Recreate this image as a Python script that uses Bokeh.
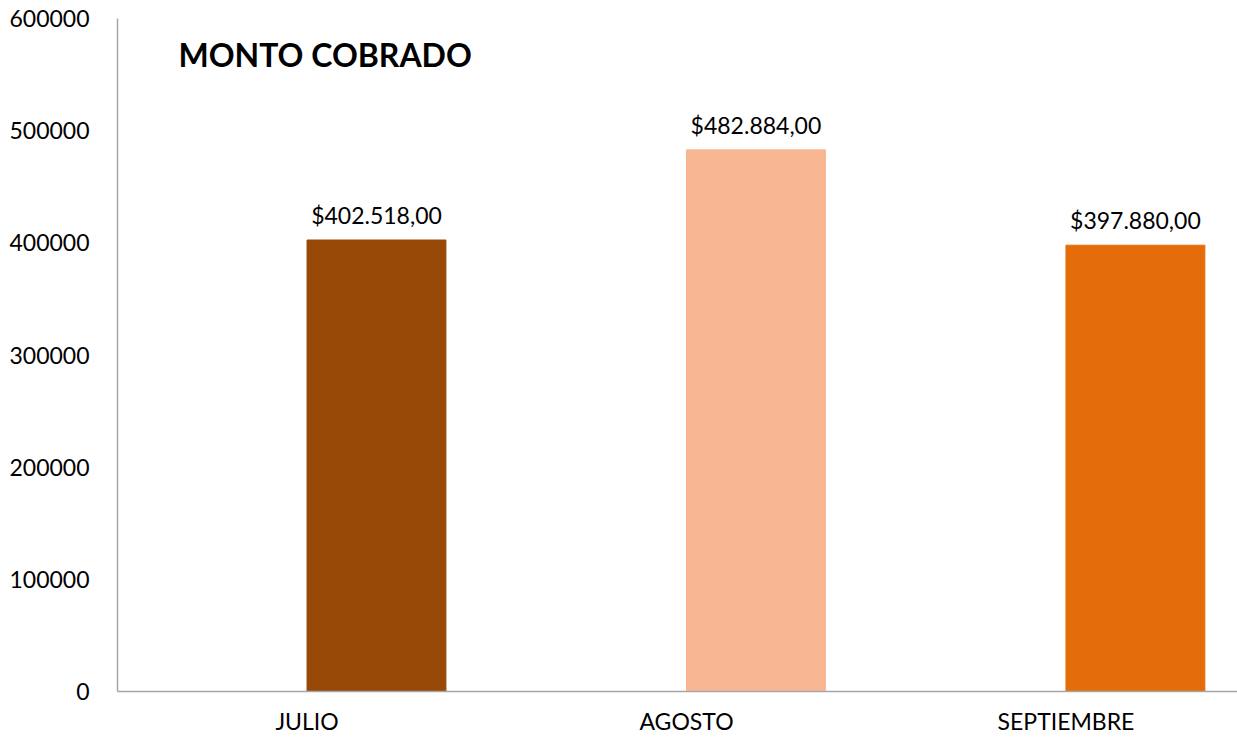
from bokeh.plotting import figure
from bokeh.models import ColumnDataSource, Range1d, FixedTicker, LabelSet, Label
from bokeh.core.properties import value
from bokeh.embed import file_html
from bokeh.resources import INLINE

categories = ["JULIO", "AGOSTO", "SEPTIEMBRE"]
montos = [402518, 482884, 397880]
colores = ["#984807", "#F8B692", "#E46C0A"]
y_ticks = [0, 100000, 200000, 300000, 400000, 500000, 600000]
titulo = "MONTO COBRADO"


def fmt(v):
    s = f"{v:,.2f}"  # 402,518.00
    s = s.replace(",", "X").replace(".", ",").replace("X", ".")
    return "$" + s


BAR_W = 0.366
xs = list(range(len(categories)))
# category labels sit under the left edge of each bar, as in the reference
x_ticks = [i - BAR_W / 2 for i in xs]

src = ColumnDataSource(dict(x=xs, y=montos, color=colores,
                            label=[fmt(v) for v in montos]))

FONT = "Lato"

p = figure(frame_width=1120, frame_height=673, output_backend="svg",
           toolbar_location=None,
           x_range=Range1d(-0.6825, 2.269), y_range=Range1d(0, 600000),
           min_border_left=117, min_border_top=18, min_border_right=0,
           min_border_bottom=10)
p.outline_line_color = None
p.xgrid.grid_line_color = None
p.ygrid.grid_line_color = None

p.vbar(x="x", top="y", width=BAR_W, color="color", source=src)

labels = LabelSet(x="x", y="y", text="label", source=src, text_align="center",
                  text_baseline="bottom", y_offset=11, text_font=value(FONT),
                  text_font_size=value("23px"), text_color="#000000")
p.add_layout(labels)

p.add_layout(Label(x=-0.522, y=567900, text=titulo, text_font=FONT,
                   text_font_size="32px", text_font_style="bold",
                   text_baseline="alphabetic", text_color="#000000"))

for ax in (p.xaxis[0], p.yaxis[0]):
    ax.axis_line_color = "#A6A6A6"
    ax.axis_line_width = 1.5
    ax.major_tick_line_color = None
    ax.minor_tick_line_color = None
    ax.major_label_text_font = FONT
    ax.major_label_text_font_size = "23px"
    ax.major_label_text_color = "#000000"

p.xaxis.ticker = FixedTicker(ticks=x_ticks)
p.xaxis.major_label_overrides = {t: c for t, c in zip(x_ticks, categories)}
p.xaxis.major_label_standoff = 9

p.yaxis.ticker = FixedTicker(ticks=y_ticks)
p.yaxis.major_label_overrides = {t: str(t) for t in y_ticks}
p.yaxis.major_label_standoff = 22

open("out.html", "w").write(file_html(p, INLINE))
